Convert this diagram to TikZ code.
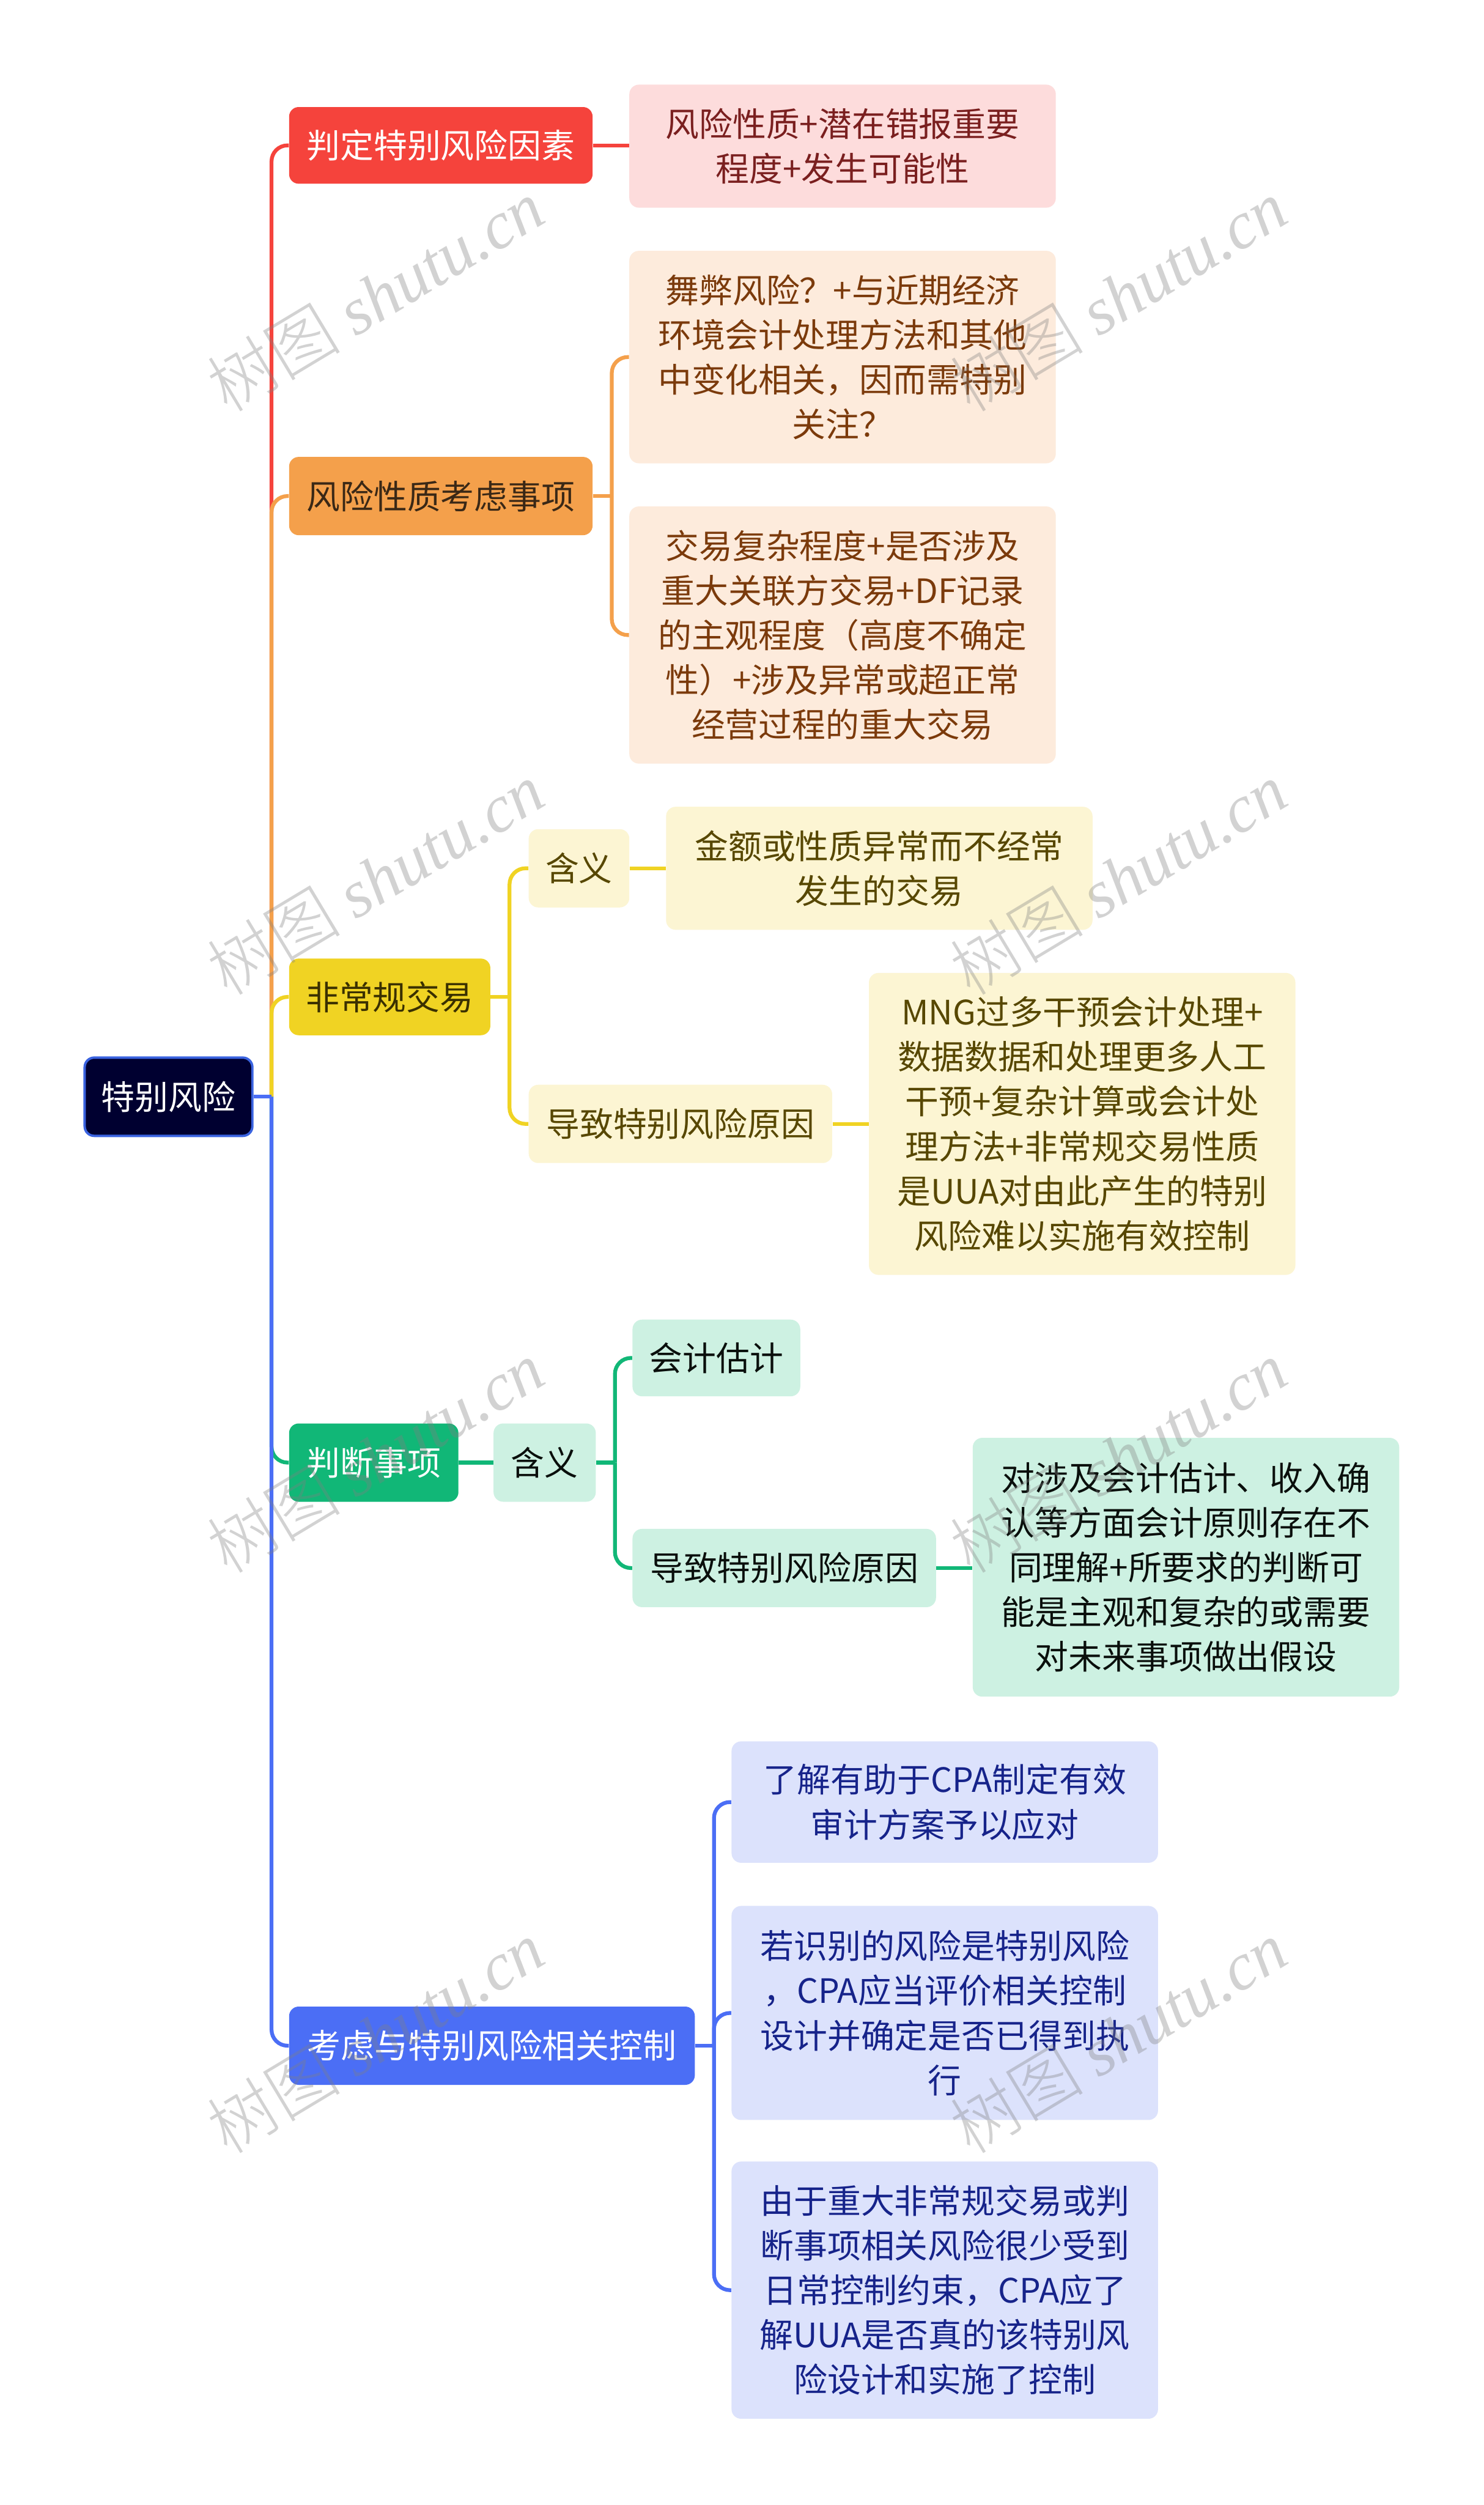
\documentclass[tikz,border=0pt]{standalone}
\usepackage{fontspec}
\setmainfont{Noto Sans CJK SC}
\newfontfamily\wmlatin{Liberation Serif}
\newfontfamily\wmcjk{Noto Sans CJK SC Light}
\definecolor{cred}{HTML}{F5433C}
\definecolor{cora}{HTML}{F4A04B}
\definecolor{cyel}{HTML}{F0D323}
\definecolor{cgrn}{HTML}{11B777}
\definecolor{cblu}{HTML}{4B6EF5}
\definecolor{rootfill}{HTML}{000030}
\definecolor{rootline}{HTML}{3A63E0}
\definecolor{redL}{HTML}{FDDCDC}
\definecolor{redT}{HTML}{7A1F1F}
\definecolor{oraL}{HTML}{FDEBDC}
\definecolor{oraT}{HTML}{7B3A0B}
\definecolor{oraD}{HTML}{3A2816}
\definecolor{yelL}{HTML}{FCF5D3}
\definecolor{yelT}{HTML}{574700}
\definecolor{yelD}{HTML}{3A3000}
\definecolor{grnL}{HTML}{CDF1E2}
\definecolor{grnT}{HTML}{0A0F0C}
\definecolor{bluL}{HTML}{DCE2FC}
\definecolor{bluT}{HTML}{16238A}
\tikzset{
  box/.style={rounded corners=6pt, inner sep=0pt, align=center,
    font=\fontsize{21}{28}\selectfont},
  conn/.style={line width=2.4pt},
  wm/.style={rotate=31, text=gray, opacity=0.35, inner sep=0pt,
    font=\fontsize{42}{42}\selectfont},
}
\begin{document}
\begin{tikzpicture}[x=1pt,y=-1pt]
\fill[white] (0,0) rectangle (929,1568);
\useasboundingbox (0,0) rectangle (929,1568);

% coordinates of branch columns
\coordinate (t0) at (170,0);
\coordinate (t1) at (383,0);
\coordinate (t2) at (319,0);
\coordinate (t3) at (385,0);
\coordinate (t4) at (447,0);

% root
\node[box, fill=rootfill, draw=rootline, line width=1.5pt, text=white,
  minimum width=105pt, minimum height=49pt] (root) at (105.5,686.5) {特别风险};

% red branch
\node[box, fill=cred, text=white, minimum width=190pt, minimum height=48pt] (a1) at (276,91) {判定特别风险因素};
\node[box, fill=redL, text=redT, minimum width=267pt, minimum height=77pt] (a2) at (527.5,91.5) {风险性质+潜在错报重要\\程度+发生可能性};

% orange branch
\node[box, fill=cora, text=oraD, minimum width=190pt, minimum height=49pt] (b1) at (276,310.5) {风险性质考虑事项};
\node[box, fill=oraL, text=oraT, minimum width=267pt, minimum height=133pt] (b2) at (527.5,223.5) {舞弊风险？+与近期经济\\环境会计处理方法和其他\\中变化相关，因而需特别\\关注？};
\node[box, fill=oraL, text=oraT, minimum width=267pt, minimum height=161pt] (b3) at (527.5,397.5) {交易复杂程度+是否涉及\\重大关联方交易+DF记录\\的主观程度（高度不确定\\性）+涉及异常或超正常\\经营过程的重大交易};

% yellow branch
\node[box, fill=cyel, text=yelD, minimum width=126pt, minimum height=48pt] (c1) at (244,624) {非常规交易};
\node[box, fill=yelL, text=yelT, minimum width=63pt, minimum height=49pt] (c2) at (362.5,543.5) {含义};
\node[box, fill=yelL, text=yelT, minimum width=267pt, minimum height=77pt] (c3) at (550.5,543.5) {金额或性质异常而不经常\\发生的交易};
\node[box, fill=yelL, text=yelT, minimum width=190pt, minimum height=49pt] (c4) at (426,703.5) {导致特别风险原因};
\node[box, fill=yelL, text=yelT, minimum width=267pt, minimum height=189pt] (c5) at (677.5,703.5) {MNG过多干预会计处理+\\数据数据和处理更多人工\\干预+复杂计算或会计处\\理方法+非常规交易性质\\是UUA对由此产生的特别\\风险难以实施有效控制};

% green branch
\node[box, fill=cgrn, text=white, minimum width=106pt, minimum height=49pt] (d1) at (234,915.5) {判断事项};
\node[box, fill=grnL, text=grnT, minimum width=64pt, minimum height=49pt] (d2) at (341,915.5) {含义};
\node[box, fill=grnL, text=grnT, minimum width=105pt, minimum height=48pt] (d3) at (448.5,850) {会计估计};
\node[box, fill=grnL, text=grnT, minimum width=190pt, minimum height=49pt] (d4) at (491,981.5) {导致特别风险原因};
\node[box, fill=grnL, text=grnT, minimum width=267pt, minimum height=162pt] (d5) at (742.5,981) {对涉及会计估计、收入确\\认等方面会计原则存在不\\同理解+所要求的判断可\\能是主观和复杂的或需要\\对未来事项做出假设};

% blue branch
\node[box, fill=cblu, text=white, minimum width=254pt, minimum height=49pt] (e1) at (308,1280.5) {考虑与特别风险相关控制};
\node[box, fill=bluL, text=bluT, minimum width=267pt, minimum height=76pt] (e2) at (591.5,1128) {了解有助于CPA制定有效\\审计方案予以应对};
\node[box, fill=bluL, text=bluT, minimum width=267pt, minimum height=134pt] (e3) at (591.5,1260) {若识别的风险是特别风险\\，CPA应当评价相关控制\\设计并确定是否已得到执\\行};
\node[box, fill=bluL, text=bluT, minimum width=267pt, minimum height=161pt] (e4) at (591.5,1433.5) {由于重大非常规交易或判\\断事项相关风险很少受到\\日常控制约束，CPA应了\\解UUA是否真的该特别风\\险设计和实施了控制};

% root connectors (order: red, orange, yellow, green, blue)
\foreach \n/\c in {a1/cred, b1/cora, c1/cyel, d1/cgrn, e1/cblu}{
  \draw[conn,\c] (root.east) -- (t0 |- root.east);
  \draw[conn,\c,rounded corners=10pt] (t0 |- root.east) -- (t0 |- \n.west) -- (\n.west);
}

% red
\draw[conn,cred] (a1.east) -- (a1.east -| a2.west);
% orange
\draw[conn,cora] (b1.east) -- (t1 |- b1.east);
\draw[conn,cora,rounded corners=10pt] (t1 |- b1.east) -- (t1 |- b2.west) -- (b2.west);
\draw[conn,cora,rounded corners=10pt] (t1 |- b1.east) -- (t1 |- b3.west) -- (b3.west);
% yellow
\draw[conn,cyel] (c1.east) -- (t2 |- c1.east);
\draw[conn,cyel,rounded corners=10pt] (t2 |- c1.east) -- (t2 |- c2.west) -- (c2.west);
\draw[conn,cyel,rounded corners=10pt] (t2 |- c1.east) -- (t2 |- c4.west) -- (c4.west);
\draw[conn,cyel] (c2.east) -- (c3.west);
\draw[conn,cyel] (c4.east) -- (c5.west);
% green
\draw[conn,cgrn] (d1.east) -- (d2.west);
\draw[conn,cgrn] (d2.east) -- (t3 |- d2.east);
\draw[conn,cgrn,rounded corners=10pt] (t3 |- d2.east) -- (t3 |- d3.west) -- (d3.west);
\draw[conn,cgrn,rounded corners=10pt] (t3 |- d2.east) -- (t3 |- d4.west) -- (d4.west);
\draw[conn,cgrn] (d4.east) -- (d4.east -| d5.west);
% blue
\draw[conn,cblu] (e1.east) -- (t4 |- e1.east);
\draw[conn,cblu,rounded corners=10pt] (t4 |- e1.east) -- (t4 |- e2.west) -- (e2.west);
\draw[conn,cblu,rounded corners=10pt] (t4 |- e1.east) -- (t4 |- e3.west) -- (e3.west);
\draw[conn,cblu,rounded corners=10pt] (t4 |- e1.east) -- (t4 |- e4.west) -- (e4.west);

% watermarks
\foreach \wx/\wy [count=\i] in {235/185, 700/185, 235/550, 700/550, 235/912, 700/912, 235/1275, 700/1275}{
  \node[wm] (wm\i) at (\wx,\wy) {{\wmcjk 树图} {\wmlatin\itshape shutu.cn}};
}
\end{tikzpicture}
\end{document}
